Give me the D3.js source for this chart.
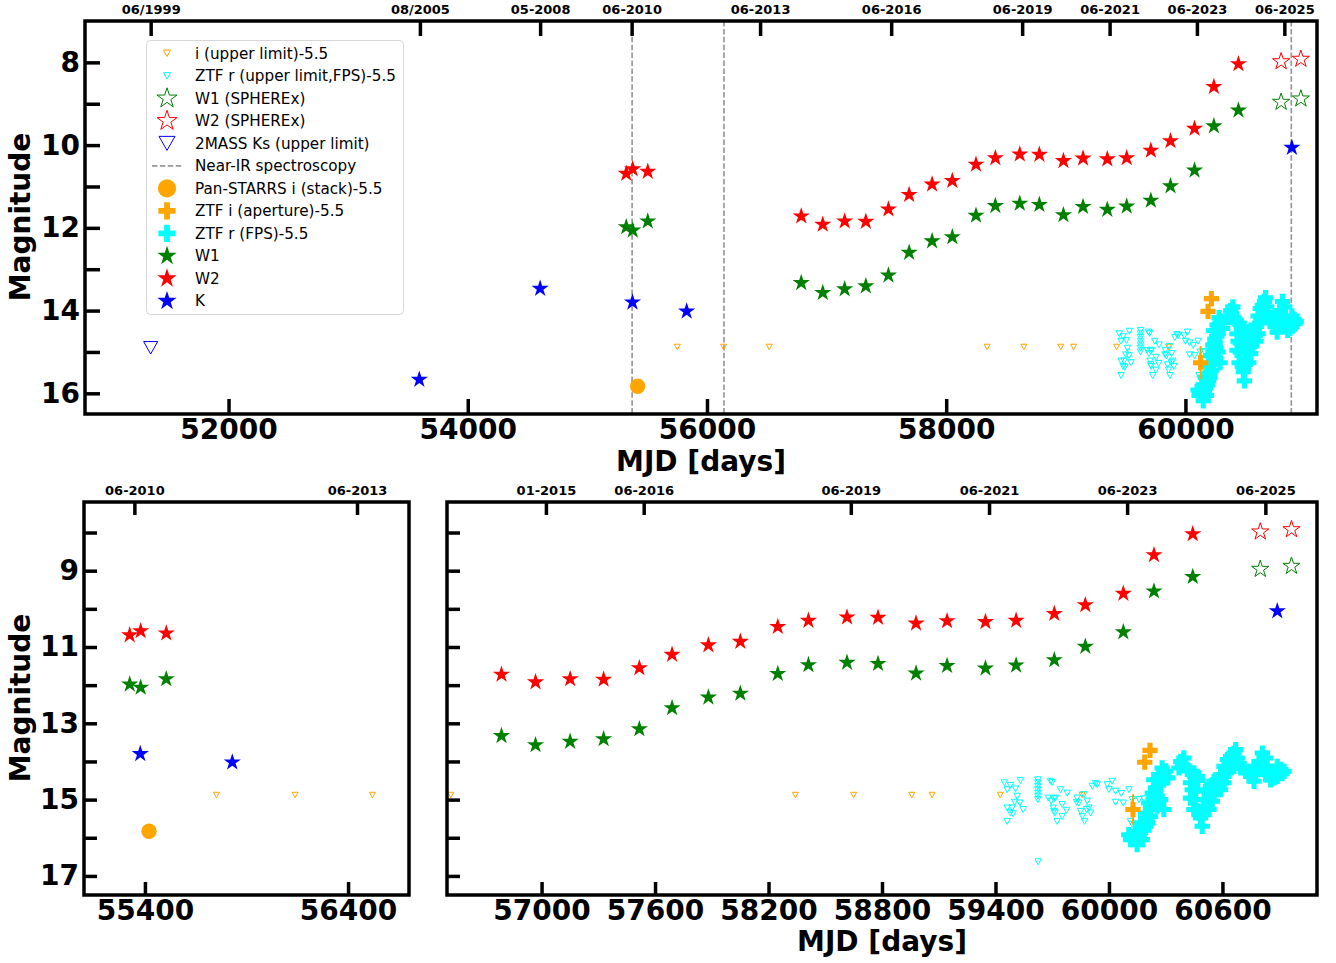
<!DOCTYPE html>
<html>
<head>
<meta charset="utf-8">
<script src="https://cdn.jsdelivr.net/npm/d3@7"></script>
<style>
  body { margin: 0; background: #fff; }
  svg text { font-family: "DejaVu Sans", sans-serif; }
</style>
</head>
<body>
<svg id="chart" width="1336" height="963"></svg>
<script>
// ---- data (MJD, magnitude) ----
const wiseMjd = [55325, 55379, 55505, 56788, 56968, 57151, 57328, 57517, 57690, 57882, 58051, 58249,
                 58411, 58615, 58779, 58980, 59144, 59347, 59509, 59711, 59875, 60076, 60238, 60443];
const w1Mag = [11.98, 12.06, 11.84, 13.33, 13.57, 13.48, 13.41, 13.15, 12.60, 12.32, 12.22, 11.70,
               11.47, 11.41, 11.44, 11.69, 11.49, 11.56, 11.48, 11.34, 10.99, 10.61, 9.54, 9.16];
const w2Mag = [10.69, 10.58, 10.64, 11.72, 11.92, 11.84, 11.85, 11.55, 11.20, 10.95, 10.86, 10.47,
               10.31, 10.22, 10.23, 10.38, 10.32, 10.34, 10.31, 10.13, 9.90, 9.60, 8.59, 8.04];

const spherexMjd = [60800, 60965];
const spherexW1 = [8.96, 8.88];
const spherexW2 = [7.98, 7.92];

const kMjd = [53595, 54605, 55377, 55830, 60890];
const kMag = [15.67, 13.47, 13.80, 14.02, 10.06];

const twomassMjd = [51349];
const twomassMag = [14.90];

const panstarrsMjd = [55420];
const panstarrsMag = [15.83];

const iLimMjd = [55752, 56139, 56520, 58342, 58650, 58958, 59065, 59425, 59858];
const iLimMag = [14.88, 14.88, 14.88, 14.88, 14.88, 14.88, 14.88, 14.88, 14.88];

const ztfiMjd = [60127, 60189, 60217];
const ztfiMag = [15.26, 14.02, 13.71];
const ztfiErr = [0.40, 0.08, 0.06];

const ztfrLimMjd = [59447, 59479, 59462, 59506, 59532, 59515, 59502, 59529, 59546, 59462, 59479, 59493, 59462, 59488,
                    59624, 59624, 59624, 59624, 59624, 59624, 59624, 59691, 59700,
                    59679, 59695, 59709, 59717, 59705, 59709, 59714, 59726, 59744, 59753, 59776, 59753, 59779,
                    59832, 59829, 59841, 59850, 59859, 59871, 59867, 59885, 59894, 59903, 59912, 59929, 59938, 59882,
                    59991, 60000, 60017, 60035, 60065, 60076, 60106, 60114, 60123, 60035, 60123, 60159, 60185,
                    59626];
const ztfrLimMag = [14.56, 14.63, 14.74, 14.72, 14.50, 14.91, 15.07, 15.09, 15.26, 15.22, 15.35, 15.37, 15.57, 15.22,
                    14.48, 14.56, 14.65, 14.74, 14.83, 14.91, 15.00, 14.52, 14.55,
                    14.96, 15.04, 14.98, 14.96, 15.22, 15.31, 15.35, 15.57, 14.74, 15.13, 15.28, 15.44, 14.83,
                    14.96, 15.07, 15.09, 15.31, 15.44, 15.57, 14.87, 15.04, 15.22, 15.35, 14.65, 14.58, 14.61, 15.26,
                    14.61, 14.74, 14.52, 14.78, 14.84, 15.09, 14.74, 15.57, 15.65, 15.07, 15.00, 15.00, 14.98,
                    16.63];

const ztfrMjd = [60105, 60131, 60149, 60176, 60167, 60193, 60202, 60193, 60220, 60211, 60237, 60229, 60255, 60246,
                 60273, 60237, 60264, 60290, 60311, 60281, 60255, 60273, 60167, 60140, 60114, 60220, 60290,
                 60185, 60205, 60230, 60248, 60262, 60300, 60158, 60120,
                 60379, 60396, 60370, 60414, 60449, 60467, 60431, 60440, 60458, 60431, 60458, 60449, 60476, 60493,
                 60484, 60502, 60520, 60516, 60537, 60555, 60573, 60555, 60546, 60529, 60590, 60608, 60626, 60643,
                 60661, 60670, 60679, 60652, 60634, 60608, 60590, 60696,
                 60388, 60425, 60470, 60500, 60530, 60565, 60582, 60620, 60660, 60688,
                 60740, 60749, 60767, 60776, 60793, 60811, 60829, 60837, 60829, 60864, 60873, 60890, 60908, 60926,
                 60855, 60890, 60760, 60800, 60845, 60915];
const ztfrMag = [15.92, 16.00, 16.18, 16.05, 15.87, 15.70, 15.52, 15.35, 15.26, 15.09, 15.00, 14.83, 14.91, 14.69,
                 14.56, 14.48, 14.35, 14.30, 14.43, 14.17, 15.17, 15.00, 15.61, 15.83, 16.05, 15.44, 15.26,
                 15.80, 15.62, 15.10, 14.80, 14.62, 14.25, 15.95, 15.98,
                 14.00, 13.91, 14.17, 14.21, 14.30, 14.39, 14.56, 14.74, 14.78, 14.96, 15.00, 15.26, 15.35, 15.70,
                 15.48, 15.17, 15.00, 14.74, 14.65, 14.52, 14.48, 14.83, 15.04, 15.26, 14.35, 14.13, 13.95, 13.87,
                 13.78, 13.69, 13.91, 14.08, 14.26, 14.56, 14.74, 14.17,
                 14.08, 14.25, 14.50, 15.30, 14.90, 14.70, 14.60, 14.30, 14.05, 14.05,
                 14.26, 14.39, 14.52, 14.13, 14.00, 13.78, 13.91, 14.17, 14.35, 14.26, 14.43, 14.13, 14.21, 14.26,
                 14.48, 14.39, 14.30, 14.20, 14.30, 14.32];

const spectroMjd = [55374, 56142, 60885];

// ---- ticks ----
const topXTicks = [52000, 54000, 56000, 58000, 60000];
const leftXTicks = [55400, 56400];
const rightXTicks = [57000, 57600, 58200, 58800, 59400, 60000, 60600];
const topYTicks = [8, 9, 10, 11, 12, 13, 14, 15, 16];
const bottomYTicks = [8, 9, 10, 11, 12, 13, 14, 15, 16, 17];

const topDateMjd = [51349, 53600, 54605, 55370, 56444, 57540, 58635, 59366, 60096, 60827];
const topDateText = ["06/1999", "08/2005", "05-2008", "06-2010", "06-2013", "06-2016", "06-2019", "06-2021", "06-2023", "06-2025"];
const leftDateMjd = [55348, 56444];
const leftDateText = ["06-2010", "06-2013"];
const rightDateMjd = [57023, 57540, 58635, 59366, 60096, 60827];
const rightDateText = ["01-2015", "06-2016", "06-2019", "06-2021", "06-2023", "06-2025"];

const svg = d3.select("#chart");

const zip = (a, b) => a.map((v, i) => [v, b[i]]);
const triDown = (w, h) => `M${-w / 2},${-h / 2}L${w / 2},${-h / 2}L0,${h / 2}Z`;
const starPath = d3.symbol(d3.symbolStar, 92)();
const crossPath = d3.symbol(d3.symbolCross, 130)();

// each series: points, path, fill, stroke
const series = [
  { pts: zip(iLimMjd, iLimMag), path: triDown(6, 5.5), fill: "none", stroke: "orange", sw: 1 },
  { pts: zip(ztfrLimMjd, ztfrLimMag), path: triDown(6.5, 6), fill: "none", stroke: "cyan", sw: 1 },
  { pts: zip(spherexMjd, spherexW1), path: starPath, fill: "none", stroke: "green", sw: 1 },
  { pts: zip(spherexMjd, spherexW2), path: starPath, fill: "none", stroke: "red", sw: 1 },
  { pts: zip(twomassMjd, twomassMag), path: triDown(14, 12.5), fill: "none", stroke: "blue", sw: 1 },
  { pts: zip(panstarrsMjd, panstarrsMag), path: d3.symbol(d3.symbolCircle, 185)(), fill: "orange", stroke: "none", sw: 0 },
  { pts: zip(ztfrMjd, ztfrMag), path: crossPath, fill: "cyan", stroke: "none", sw: 0 },
  { pts: zip(ztfiMjd, ztfiMag), path: crossPath, fill: "orange", stroke: "none", sw: 0, err: ztfiErr },
  { pts: zip(wiseMjd, w1Mag), path: starPath, fill: "green", stroke: "none", sw: 0 },
  { pts: zip(wiseMjd, w2Mag), path: starPath, fill: "red", stroke: "none", sw: 0 },
  { pts: zip(kMjd, kMag), path: starPath, fill: "blue", stroke: "none", sw: 0 }
];

function panel(cfg, id) {
  const x = d3.scaleLinear().domain(cfg.xDomain).range([cfg.left, cfg.right]);
  const y = d3.scaleLinear().domain(cfg.yDomain).range([cfg.top, cfg.bottom]);
  const g = svg.append("g");

  g.append("clipPath").attr("id", "clip" + id)
    .append("rect")
    .attr("x", cfg.left).attr("y", cfg.top)
    .attr("width", cfg.right - cfg.left).attr("height", cfg.bottom - cfg.top);

  const plot = g.append("g").attr("clip-path", `url(#clip${id})`);

  if (cfg.vlines) {
    plot.selectAll("line.spec").data(spectroMjd).join("line")
      .attr("x1", d => x(d)).attr("x2", d => x(d))
      .attr("y1", cfg.top).attr("y2", cfg.bottom)
      .attr("stroke", "#999").attr("stroke-width", 1.7)
      .attr("stroke-dasharray", "5.5,2.4");
  }

  series.forEach(s => {
    if (s.err) {
      plot.selectAll(null).data(s.pts).join("line")
        .attr("x1", d => x(d[0])).attr("x2", d => x(d[0]))
        .attr("y1", (d, i) => y(d[1] - s.err[i])).attr("y2", (d, i) => y(d[1] + s.err[i]))
        .attr("stroke", s.fill).attr("stroke-width", 2);
    }
    plot.selectAll(null).data(s.pts).join("path")
      .attr("d", s.path)
      .attr("transform", d => `translate(${x(d[0])},${y(d[1])})`)
      .attr("fill", s.fill)
      .attr("stroke", s.stroke)
      .attr("stroke-width", s.sw);
  });

  const styleAxis = (sel, size) => {
    sel.select(".domain").remove();
    sel.selectAll(".tick line").attr("stroke", "#000").attr("stroke-width", 3.5);
    sel.selectAll(".tick text")
      .attr("fill", "#000")
      .style("font-size", size + "px")
      .style("font-weight", "bold");
  };

  g.append("g").attr("transform", `translate(0,${cfg.bottom})`)
    .call(d3.axisBottom(x).tickValues(cfg.xTicks).tickFormat(d3.format("d"))
      .tickSizeInner(-cfg.tick).tickSizeOuter(0).tickPadding(cfg.xPad))
    .call(sel => styleAxis(sel, 28));

  g.append("g").attr("transform", `translate(${cfg.left},0)`)
    .call(d3.axisLeft(y).tickValues(cfg.yTicks)
      .tickFormat(d => cfg.yLabel(d) ? d : "")
      .tickSizeInner(-cfg.tick).tickSizeOuter(0).tickPadding(5))
    .call(sel => styleAxis(sel, 28));

  g.append("g").attr("transform", `translate(0,${cfg.top})`)
    .call(d3.axisTop(x).tickValues(cfg.dateMjd)
      .tickFormat((d, i) => cfg.dateText[i])
      .tickSizeInner(-cfg.tick).tickSizeOuter(0).tickPadding(7))
    .call(sel => styleAxis(sel, 13));

  g.append("rect")
    .attr("x", cfg.left).attr("y", cfg.top)
    .attr("width", cfg.right - cfg.left).attr("height", cfg.bottom - cfg.top)
    .attr("fill", "none").attr("stroke", "#000").attr("stroke-width", 3.5);
}

panel({
  left: 85, right: 1317, top: 21, bottom: 414,
  xDomain: [50800, 61100], yDomain: [7, 16.5],
  xTicks: topXTicks, yTicks: topYTicks, yLabel: d => d % 2 === 0,
  dateMjd: topDateMjd, dateText: topDateText, tick: 15, xPad: 5, vlines: true
}, 0);

panel({
  left: 84, right: 409, top: 502, bottom: 895,
  xDomain: [55100, 56700], yDomain: [7.2, 17.5],
  xTicks: leftXTicks, yTicks: bottomYTicks, yLabel: d => d % 2 === 1,
  dateMjd: leftDateMjd, dateText: leftDateText, tick: 13, xPad: 5, vlines: false
}, 1);

panel({
  left: 447, right: 1317, top: 502, bottom: 895,
  xDomain: [56500, 61100], yDomain: [7.2, 17.5],
  xTicks: rightXTicks, yTicks: bottomYTicks, yLabel: d => false,
  dateMjd: rightDateMjd, dateText: rightDateText, tick: 13, xPad: 5, vlines: false
}, 2);

// axis titles
const title = (tx, ty, rot, text) => svg.append("text")
  .attr("transform", `translate(${tx},${ty}) rotate(${rot})`)
  .attr("text-anchor", "middle").attr("dominant-baseline", "central")
  .style("font-size", "28px").style("font-weight", "bold")
  .text(text);
title(701, 461, 0, "MJD [days]");
title(882, 941, 0, "MJD [days]");
title(20, 217, -90, "Magnitude");
title(20, 698, -90, "Magnitude");

// legend
const legendItems = [
  { label: "i (upper limit)-5.5", s: 0, path: triDown(7, 6.5) },
  { label: "ZTF r (upper limit,FPS)-5.5", s: 1, path: triDown(7, 6.5) },
  { label: "W1 (SPHEREx)", s: 2, path: d3.symbol(d3.symbolStar, 125)() },
  { label: "W2 (SPHEREx)", s: 3, path: d3.symbol(d3.symbolStar, 125)() },
  { label: "2MASS Ks (upper limit)", s: 4, path: triDown(16, 14) },
  { label: "Near-IR spectroscopy", s: -1 },
  { label: "Pan-STARRS i (stack)-5.5", s: 5, path: d3.symbol(d3.symbolCircle, 260)() },
  { label: "ZTF i (aperture)-5.5", s: 7, path: d3.symbol(d3.symbolCross, 165)() },
  { label: "ZTF r (FPS)-5.5", s: 6, path: d3.symbol(d3.symbolCross, 165)() },
  { label: "W1", s: 8, path: d3.symbol(d3.symbolStar, 115)() },
  { label: "W2", s: 9, path: d3.symbol(d3.symbolStar, 115)() },
  { label: "K", s: 10, path: d3.symbol(d3.symbolStar, 115)() }
];

const lg = svg.append("g");
lg.append("rect")
  .attr("x", 146.5).attr("y", 40.5).attr("width", 257).attr("height", 274).attr("rx", 4)
  .attr("fill", "#fff").attr("fill-opacity", 0.85)
  .attr("stroke", "#d6d6d6").attr("stroke-width", 1);

const rowY = d3.scaleLinear().domain([0, legendItems.length - 1]).range([53.3, 301]);
legendItems.forEach((it, i) => {
  const yy = rowY(i);
  if (it.s < 0) {
    lg.append("line").attr("x1", 152).attr("x2", 182).attr("y1", yy).attr("y2", yy)
      .attr("stroke", "#999").attr("stroke-width", 1.7).attr("stroke-dasharray", "5.5,2.4");
  } else {
    const s = series[it.s];
    lg.append("path").attr("d", it.path)
      .attr("transform", `translate(167,${yy})`)
      .attr("fill", s.fill).attr("stroke", s.stroke).attr("stroke-width", s.sw);
  }
  lg.append("text").attr("x", 195).attr("y", yy).attr("dy", "0.36em")
    .style("font-size", "15.2px").text(it.label);
});
</script>
</body>
</html>
